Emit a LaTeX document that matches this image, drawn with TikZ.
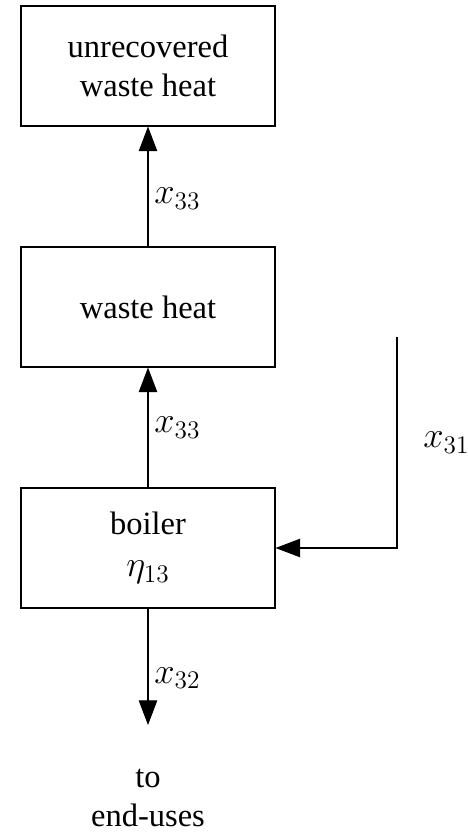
\documentclass[tikz,border=0pt]{standalone}
\usepackage{fontspec}
\setmainfont{Liberation Serif}
\usetikzlibrary{arrows.meta}

\begin{document}
\begin{tikzpicture}[
    flow/.tip={Triangle[length=14pt,width=10.5pt]},
    unit/.style={draw, line width=0.6pt, minimum width=5.08cm, minimum height=2.4cm, align=center},
    stream/.style={line width=0.6pt},
    qty/.style={font=\fontsize{21}{24}\selectfont},
    every node/.style={font=\fontsize{18.5}{22}\selectfont},
]
    \useasboundingbox (0,0) rectangle (9.34,-16.66);

    \node[unit] (unrec) at (2.96,-1.32) {unrecovered\\waste heat};
    \node[unit] (waste) at (2.96,-6.14) {waste heat};
    \node[unit] (boiler) at (2.96,-10.96) {boiler\\[2pt]{\fontsize{21}{24}\selectfont$\eta_{13}$}};
    \node[align=center] (enduse) at (2.96,-15.96) {to\\end-uses};

    \coordinate (fuel) at (7.94,-6.74);
    \coordinate (tip) at (2.96,-14.5);

    \draw[-flow,stream] (waste) -- node[qty,right,pos=0.4] {$x_{33}$} (unrec);
    \draw[-flow,stream] (boiler) -- node[qty,right] {$x_{33}$} (waste);
    \draw[-flow,stream] (boiler) -- node[qty,right,pos=0.6] {$x_{32}$} (tip);
    \draw[-flow,stream] (fuel) -- node[qty,right=0.4cm] {$x_{31}$} (fuel |- boiler.east) -- (boiler.east);
\end{tikzpicture}
\end{document}
